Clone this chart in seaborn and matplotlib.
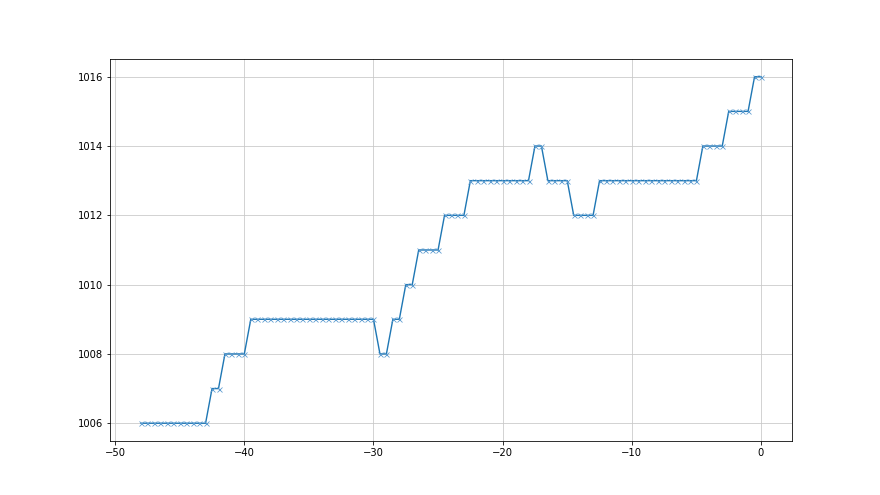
import numpy as np
import pandas as pd
import matplotlib
matplotlib.use("Agg")
import matplotlib.pyplot as plt
import seaborn as sns

# x positions (step 0.5 from -48 to 0)
x_values = np.arange(-48.0, 0.5, 0.5)

y_values = [
    1006, 1006, 1006, 1006, 1006, 1006, 1006, 1006, 1006, 1006, 1006,  # -48 .. -43
    1007, 1007,                                                        # -42.5, -42
    1008, 1008, 1008, 1008,                                            # -41.5 .. -40
    1009, 1009, 1009, 1009, 1009, 1009, 1009, 1009, 1009, 1009,
    1009, 1009, 1009, 1009, 1009, 1009, 1009, 1009, 1009, 1009,        # -39.5 .. -30
    1008, 1008,                                                        # -29.5, -29
    1009, 1009,                                                        # -28.5, -28
    1010, 1010,                                                        # -27.5, -27
    1011, 1011, 1011, 1011,                                            # -26.5 .. -25
    1012, 1012, 1012, 1012,                                            # -24.5 .. -23
    1013, 1013, 1013, 1013, 1013, 1013, 1013, 1013, 1013, 1013,        # -22.5 .. -18
    1014, 1014,                                                        # -17.5, -17
    1013, 1013, 1013, 1013,                                            # -16.5 .. -15
    1012, 1012, 1012, 1012,                                            # -14.5 .. -13
    1013, 1013, 1013, 1013, 1013, 1013, 1013, 1013,
    1013, 1013, 1013, 1013, 1013, 1013, 1013, 1013,                    # -12.5 .. -5
    1014, 1014, 1014, 1014,                                            # -4.5 .. -3
    1015, 1015, 1015, 1015,                                            # -2.5 .. -1
    1016, 1016,                                                        # -0.5, 0
]

df = pd.DataFrame({"x": x_values, "y": y_values})

fig = plt.figure(figsize=(880 / 72, 495 / 72), dpi=72)
ax = fig.add_subplot(111)
sns.lineplot(data=df, x="x", y="y", ax=ax, color="#1f77b4", marker="x",
             markeredgecolor="#5b9bd0", markeredgewidth=0.8, markersize=5,
             linewidth=1.4)
ax.grid(True, color="#c8c8c8", linewidth=0.8)
ax.set_xlabel("")
ax.set_ylabel("")
fig.savefig("out.png", dpi=72, facecolor="white")
